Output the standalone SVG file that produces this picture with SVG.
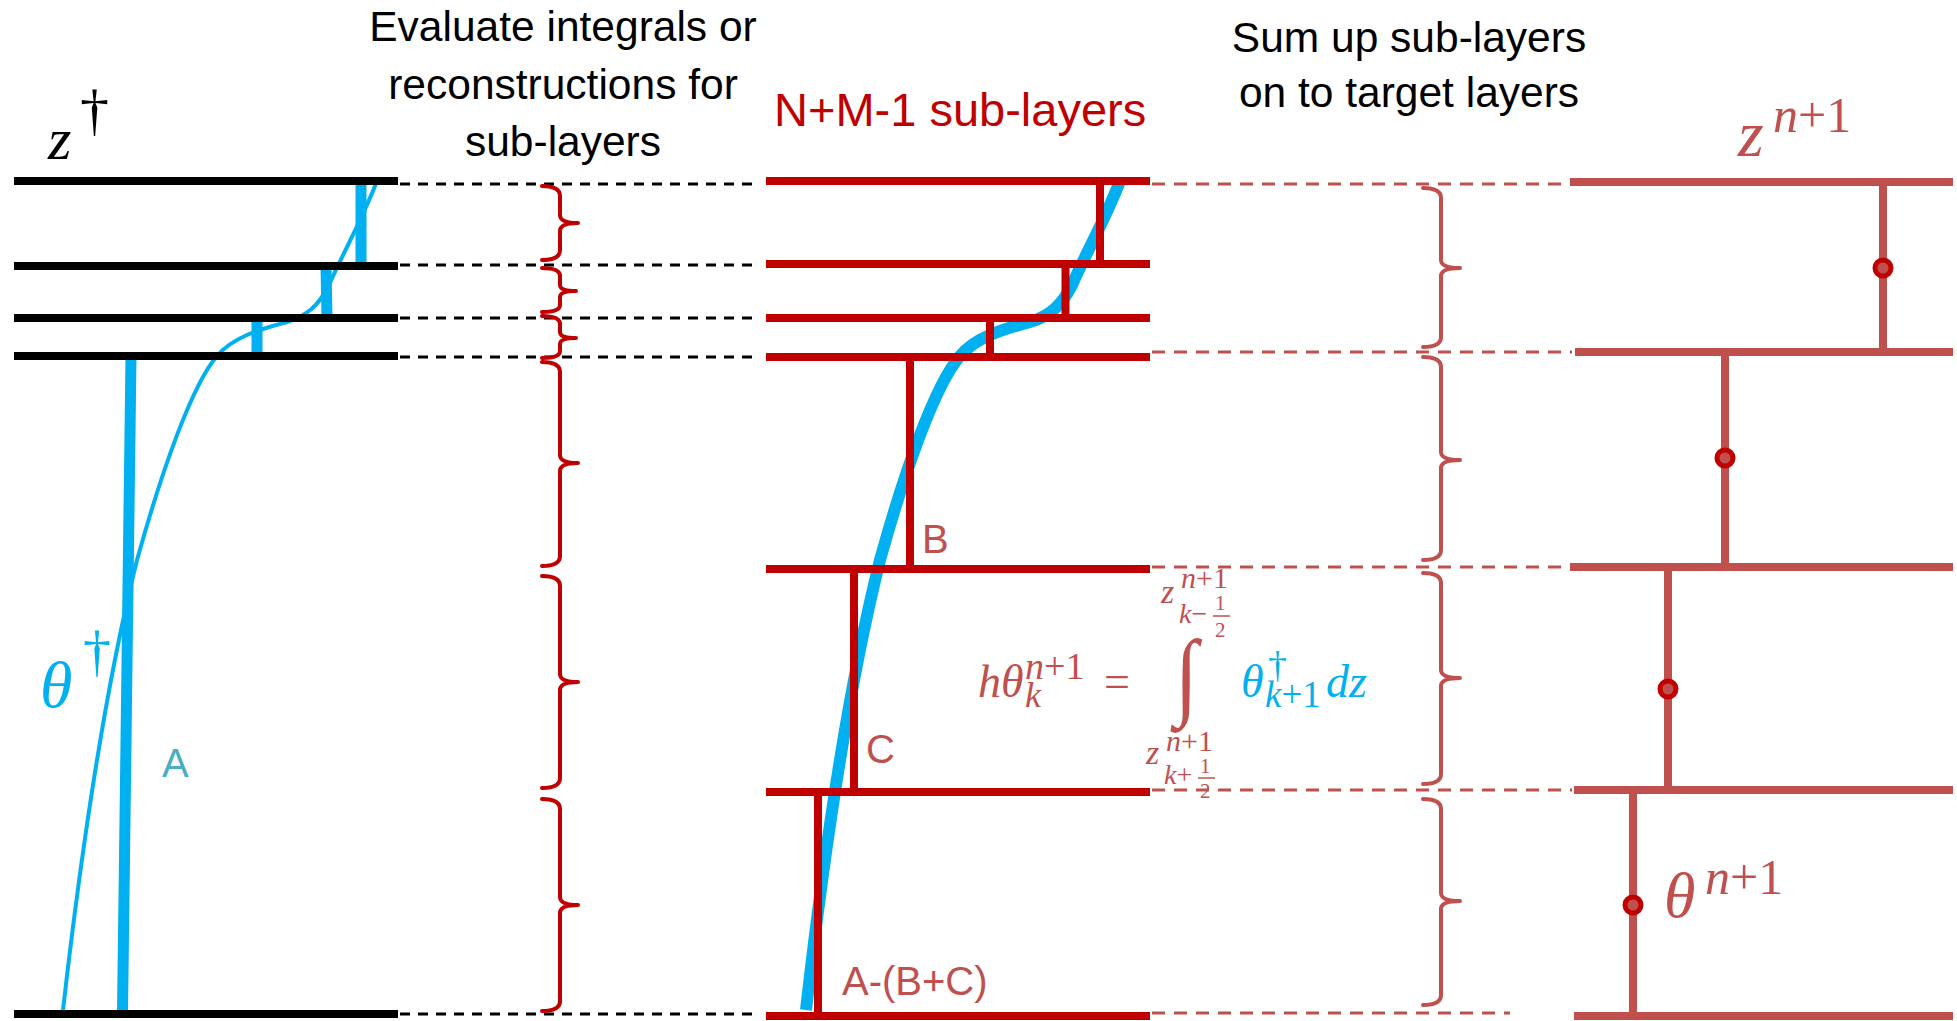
<svg xmlns="http://www.w3.org/2000/svg" width="1957" height="1021" viewBox="0 0 1957 1021">
<style>
.sans{font-family:"Liberation Sans",Arial,sans-serif}
.math{font-family:"Liberation Serif","DejaVu Serif",serif}
.it{font-style:italic}
.up{font-style:normal}
.blk{stroke:#000;stroke-width:8;fill:none}
.dred{stroke:#C00000;stroke-width:8;fill:none}
.lred{stroke:#C0504D;stroke-width:8;fill:none}
.dashk{stroke:#000;stroke-width:3;stroke-dasharray:10 8;fill:none}
.dashr{stroke:#C0504D;stroke-width:3;stroke-dasharray:13 9;fill:none}
.brace1{stroke:#C00000;stroke-width:4;fill:none;stroke-linecap:round;stroke-linejoin:round}
.brace2{stroke:#C0504D;stroke-width:4;fill:none;stroke-linecap:round;stroke-linejoin:round}
.blue{stroke:#00B0F0;fill:none}
.dot{fill:#C0504D;stroke:#C00000;stroke-width:5}
</style>
<rect width="1957" height="1021" fill="#fff"/>

<g id="connectors">
  <path class="dashk" d="M400 184H754M400 265H754M400 318H754M400 357H754M400 1014H754"/>
  <path class="dashr" d="M1152 184H1568M1152 352H1572M1152 567H1570M1152 790H1572M1152 1013H1510"/>
</g>

<g id="braces-left">
  <path class="brace1" d="M542 186Q560 186 560 196L560 215Q560 223 578 223M578 223Q560 223 560 231L560 250Q560 260 542 260"/>
  <path class="brace1" d="M542 268Q560 268 560 276L560 285Q560 291 576 291M576 291Q560 291 560 297L560 305Q560 312 542 312"/>
  <path class="brace1" d="M542 316Q560 316 560 324L560 332Q560 338 576 338M576 338Q560 338 560 344L560 351Q560 358 542 358"/>
  <path class="brace1" d="M542 362Q560 362 560 372L560 455Q560 463 578 463M578 463Q560 463 560 471L560 556Q560 566 542 566"/>
  <path class="brace1" d="M542 576Q560 576 560 586L560 674Q560 682 578 682M578 682Q560 682 560 690L560 778Q560 788 542 788"/>
  <path class="brace1" d="M542 799Q560 799 560 809L560 897Q560 905 578 905M578 905Q560 905 560 913L560 1001Q560 1011 542 1011"/>
</g>

<g id="braces-right">
  <path class="brace2" d="M1423 188Q1441 188 1441 198L1441 260Q1441 268 1460 268M1460 268Q1441 268 1441 276L1441 337Q1441 347 1423 347"/>
  <path class="brace2" d="M1423 357Q1441 357 1441 367L1441 452Q1441 460 1460 460M1460 460Q1441 460 1441 468L1441 550Q1441 560 1423 560"/>
  <path class="brace2" d="M1423 573Q1441 573 1441 583L1441 670Q1441 678 1460 678M1460 678Q1441 678 1441 686L1441 774Q1441 784 1423 784"/>
  <path class="brace2" d="M1423 799Q1441 799 1441 809L1441 893Q1441 901 1460 901M1460 901Q1441 901 1441 909L1441 995Q1441 1005 1423 1005"/>
</g>

<g id="panel-source">
  <g class="blue" stroke-width="11">
    <path d="M361 181V266"/>
    <path d="M326 266L327 318"/>
    <path d="M257 318V356"/>
    <path d="M131 356L122.5 1012"/>
  </g>
  <path class="blue" stroke-width="4" transform="translate(-743 0)" d="M1120 181C1105 220 1085 255 1072 285C1062 305 1050 316 1030 322C1000 330 975 338 960 356C935 385 905 470 880 560C855 660 830 800 806 1010"/>
  <path class="blk" d="M14 181H398M14 266H398M14 318H398M14 356H398M14 1014H398"/>
  <text class="math it" x="48" y="159" font-size="60">z<tspan class="up" x="80" y="129" font-size="58">†</tspan></text>
  <text class="math it" x="40" y="707" font-size="66" fill="#00B0F0">θ<tspan class="up" x="83" y="670" font-size="56">†</tspan></text>
  <text class="sans" x="162" y="777" font-size="40" fill="#4BACC6">A</text>
</g>

<g id="title-left">
  <text class="sans" x="563" y="41" font-size="42.5" text-anchor="middle">Evaluate integrals or</text>
  <text class="sans" x="563" y="99" font-size="42.5" text-anchor="middle">reconstructions for</text>
  <text class="sans" x="563" y="156" font-size="42.5" text-anchor="middle">sub-layers</text>
</g>

<g id="panel-sublayers">
  <text class="sans" x="774" y="126" font-size="47" fill="#C00000">N+M-1 sub-layers</text>
  <path class="blue" stroke-width="12" d="M1120 181C1105 220 1085 255 1072 285C1062 305 1050 316 1030 322C1000 330 975 338 960 356C935 385 905 470 880 560C855 660 830 800 806 1010"/>
  <path class="dred" d="M1100 181V264M1065.5 264V318M990 318V357M910 357V569M854 569V792M818 792V1015"/>
  <path class="dred" d="M766 181H1150M766 264H1150M766 318H1150M766 357H1150M766 569H1150M766 792H1150M766 1016H1150"/>
  <text class="sans" x="922" y="553" font-size="40" fill="#C0504D">B</text>
  <text class="sans" x="866" y="763" font-size="40" fill="#C0504D">C</text>
  <text class="sans" x="842" y="995" font-size="40" fill="#C0504D">A-(B+C)</text>
</g>

<g id="formula" class="math" fill="#C0504D">
  <text x="978" y="697" font-size="46" class="it">hθ<tspan x="1025" y="679" font-size="38">n<tspan class="up">+1</tspan></tspan><tspan x="1025" y="707" font-size="36">k</tspan></text>
  <text x="1104" y="697" font-size="46">=</text>
  <text x="1175" y="704" font-size="84" transform="translate(0 684) scale(1 1.15) translate(0 -684)">∫</text>
  <text x="1161" y="603" font-size="34" class="it">z<tspan x="1181" y="588" font-size="30">n<tspan class="up">+1</tspan></tspan><tspan x="1179" y="623" font-size="28">k<tspan class="up">−</tspan></tspan></text>
  <text x="1215" y="610" font-size="21">1<tspan x="1215" y="637">2</tspan></text>
  <path d="M1213 616H1230" stroke="#C0504D" stroke-width="1.5"/>
  <text x="1146" y="764" font-size="34" class="it">z<tspan x="1166" y="751" font-size="30">n<tspan class="up">+1</tspan></tspan><tspan x="1164" y="784" font-size="28">k<tspan class="up">+</tspan></tspan></text>
  <text x="1200" y="773" font-size="21">1<tspan x="1200" y="798">2</tspan></text>
  <path d="M1198 778H1215" stroke="#C0504D" stroke-width="1.5"/>
  <text x="1241" y="697" font-size="46" class="it" fill="#00B0F0">θ<tspan class="up" x="1268" y="678" font-size="38">†</tspan><tspan x="1265" y="707" font-size="37">k<tspan class="up">+1</tspan></tspan><tspan x="1326" y="697" font-size="46">dz</tspan></text>
</g>

<g id="title-right">
  <text class="sans" x="1409" y="52" font-size="42.5" text-anchor="middle">Sum up sub-layers</text>
  <text class="sans" x="1409" y="107" font-size="42.5" text-anchor="middle">on to target layers</text>
</g>

<g id="panel-target">
  <text class="math it" x="1738" y="156" font-size="66" fill="#C0504D">z<tspan x="1773" y="132" font-size="50">n<tspan class="up">+1</tspan></tspan></text>
  <path class="lred" d="M1883 182V353M1725 352V567M1668 567V790M1633 790V1016"/>
  <path class="lred" d="M1570 182H1953M1575 352H1953M1570 567H1953M1574 790H1953M1574 1016H1953"/>
  <circle class="dot" cx="1883" cy="268" r="8"/>
  <circle class="dot" cx="1725" cy="458" r="8"/>
  <circle class="dot" cx="1668" cy="689" r="8"/>
  <circle class="dot" cx="1633" cy="905" r="8"/>
  <text class="math it" x="1664" y="917" font-size="64" fill="#C0504D">θ<tspan x="1705" y="894" font-size="50">n<tspan class="up">+1</tspan></tspan></text>
</g>
</svg>
